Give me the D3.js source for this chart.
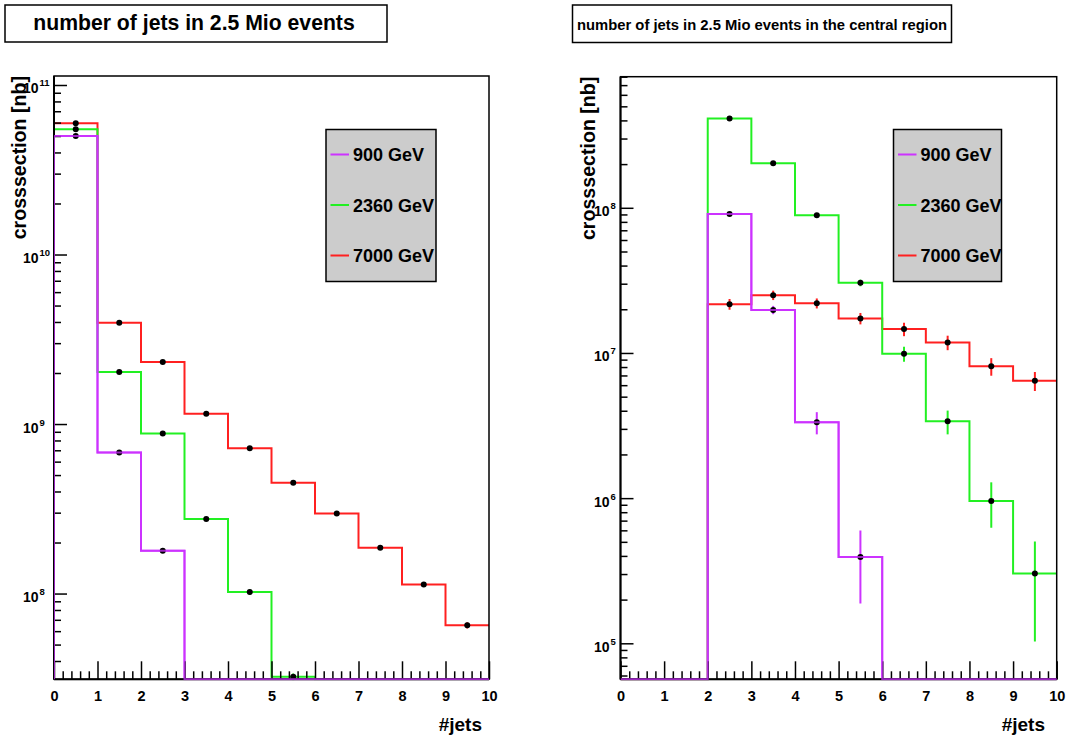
<!DOCTYPE html>
<html><head><meta charset="utf-8">
<script src="https://cdn.jsdelivr.net/npm/d3@7"></script>
<style>
body{margin:0;background:#fff}
svg{display:block}
text{font-family:"Liberation Sans",Arial,Helvetica,sans-serif;font-weight:bold;fill:#000}
</style>
</head><body>
<svg id="chart" width="1069" height="743"></svg>
<script>
// ---------- data ----------
const binEdges = [0,1,2,3,4,5,6,7,8,9,10];
const xTickLabels = ["0","1","2","3","4","5","6","7","8","9","10"];
const seriesNames = ["900 GeV","2360 GeV","7000 GeV"];
const seriesColors = ["#cc33ff","#22f022","#ff2020"];

// left panel: number of jets in 2.5 Mio events  (crosssection [nb])
const left900  = [5.0e10, 6.8e8, 1.79e8, 0, 0, 0, 0, 0, 0, 0];
const left2360 = [5.48e10, 2.03e9, 8.8e8, 2.75e8, 1.02e8, 3.23e7, 0, 0, 0, 0];
const left7000 = [5.94e10, 3.96e9, 2.32e9, 1.15e9, 7.2e8, 4.5e8, 2.97e8, 1.86e8, 1.13e8, 6.5e7];
const leftErr900  = [3.0e8, 1.2e7, 4.5e6, 0, 0, 0, 0, 0, 0, 0];
const leftErr2360 = [3.0e8, 2.0e7, 1.3e7, 6.5e6, 4.0e6, 1.5e6, 0, 0, 0, 0];
const leftErr7000 = [3.0e8, 2.5e7, 2.0e7, 1.3e7, 1.0e7, 8.0e6, 6.0e6, 4.5e6, 3.5e6, 2.8e6];

// right panel: central region
const right900  = [0, 0, 9.05e7, 1.98e7, 3.33e6, 3.93e5, 0, 0, 0, 0];
const right2360 = [0, 0, 4.13e8, 2.03e8, 8.87e7, 3.04e7, 9.87e6, 3.38e6, 9.55e5, 3.03e5];
const right7000 = [0, 0, 2.17e7, 2.5e7, 2.2e7, 1.73e7, 1.46e7, 1.18e7, 8.09e6, 6.43e6];
const rightErr900  = [0, 0, 3.1e6, 1.3e6, 5.8e5, 2.05e5, 0, 0, 0, 0];
const rightErr2360 = [0, 0, 6.6e6, 4.6e6, 3.0e6, 1.6e6, 1.17e6, 6.3e5, 3.3e5, 2.0e5];
const rightErr7000 = [0, 0, 1.82e6, 1.86e6, 1.74e6, 1.56e6, 1.55e6, 1.35e6, 1.12e6, 9.5e5];

const leftDecades  = [1e8, 1e9, 1e10, 1e11];
const leftExponents = ["8","9","10","11"];
const rightDecades = [1e5, 1e6, 1e7, 1e8];
const rightExponents = ["5","6","7","8"];

const titleLeft  = "number of jets in 2.5 Mio events";
const titleRight = "number of jets in 2.5 Mio events in the central region";
const yTitle = "crosssection [nb]";
const xTitle = "#jets";

// ---------- layout ----------
const panels = [
  {
    x0: 54, x1: 489, y0: 76, y1: 679.3, ymin: 3.12e7, ymax: 1.13e11,
    values: [left900, left2360, left7000], errors: [leftErr900, leftErr2360, leftErr7000],
    decades: leftDecades, exps: leftExponents, labX: 38.5,
    title: titleLeft, tbox: {x: 5, y: 5, w: 382, h: 37}, tsize: 21.2, tcx: 194, tby: 30,
    legend: {x: 326, y: 129.5, w: 110, h: 152},
    yTitleX: 25.5, xTitleX: 482
  },
  {
    x0: 620.5, x1: 1056.7, y0: 76.7, y1: 679.3, ymin: 5.65e4, ymax: 8.0e8,
    values: [right900, right2360, right7000], errors: [rightErr900, rightErr2360, rightErr7000],
    decades: rightDecades, exps: rightExponents, labX: 609.5,
    title: titleRight, tbox: {x: 572.5, y: 5, w: 379, h: 37.5}, tsize: 14.8, tcx: 762, tby: 29.5,
    legend: {x: 893.5, y: 129.5, w: 108, h: 152},
    yTitleX: 594.5, xTitleX: 1045
  }
];

const svg = d3.select("#chart");

panels.forEach((p, pi) => {
  const x = d3.scaleLinear().domain([binEdges[0], binEdges[binEdges.length-1]]).range([p.x0, p.x1]);
  const y = d3.scaleLog().domain([p.ymin, p.ymax]).range([p.y1, p.y0]);
  const g = svg.append("g");

  const clipId = "clip" + pi;
  svg.append("clipPath").attr("id", clipId).append("rect")
    .attr("x", p.x0).attr("y", p.y0 - 1).attr("width", p.x1 - p.x0 + 1).attr("height", p.y1 - p.y0 + 2);

  // histograms: draw order 7000, 2360, 900 (900 on top)
  const order = [2, 1, 0];
  const line = d3.line().x(d => x(d[0])).y(d => y(Math.max(d[1], p.ymin)));
  const hg = g.append("g").attr("clip-path", `url(#${clipId})`);
  order.forEach(si => {
    const vals = p.values[si];
    const pts = [[binEdges[0], p.ymin]];
    vals.forEach((v, i) => { pts.push([binEdges[i], v]); pts.push([binEdges[i+1], v]); });
    hg.append("path").attr("d", line(pts)).attr("fill", "none")
      .attr("stroke", seriesColors[si]).attr("stroke-width", 2);
  });
  order.forEach(si => {
    const vals = p.values[si], errs = p.errors[si];
    vals.forEach((v, i) => {
      if (v <= 0) return;
      const cx = x((binEdges[i] + binEdges[i+1]) / 2);
      const lo = Math.max(v - errs[i], p.ymin * 0.9);
      hg.append("line").attr("x1", cx).attr("x2", cx)
        .attr("y1", y(lo)).attr("y2", y(v + errs[i]))
        .attr("stroke", seriesColors[si]).attr("stroke-width", 2);
    });
  });
  order.forEach(si => {
    const vals = p.values[si];
    vals.forEach((v, i) => {
      if (v <= 0) return;
      hg.append("circle").attr("cx", x((binEdges[i] + binEdges[i+1]) / 2)).attr("cy", y(v))
        .attr("r", 3).attr("fill", "#000");
    });
  });

  // frame
  g.append("rect").attr("x", p.x0).attr("y", p.y0).attr("width", p.x1 - p.x0).attr("height", p.y1 - p.y0)
    .attr("fill", "none").attr("stroke", "#000").attr("stroke-width", 1.5);
  g.append("line").attr("x1", p.x0).attr("x2", p.x0).attr("y1", p.y0).attr("y2", p.y1)
    .attr("stroke", "#000").attr("stroke-width", 2);

  // y axis ticks (log)
  const lo = Math.floor(Math.log10(p.ymin)), hi = Math.ceil(Math.log10(p.ymax));
  const minors = [];
  for (let e = lo; e <= hi; e++) for (let m = 2; m <= 9; m++) {
    const v = m * Math.pow(10, e);
    if (v >= p.ymin && v <= p.ymax) minors.push(v);
  }
  const yMinorAxis = d3.axisRight(y).tickValues(minors).tickSize(7).tickFormat("");
  const yMajorAxis = d3.axisRight(y).tickValues(p.decades).tickSize(13).tickFormat("");
  [yMinorAxis, yMajorAxis].forEach(ax => {
    const a = g.append("g").attr("transform", `translate(${p.x0},0)`).call(ax);
    a.select(".domain").remove();
    a.selectAll("line").attr("stroke", "#000").attr("stroke-width", 1.5);
  });
  p.decades.forEach((v, i) => {
    g.append("text").attr("x", p.labX).attr("y", y(v) + 8.5).attr("text-anchor", "end")
      .attr("font-size", 14).text("10");
    g.append("text").attr("x", p.labX + 1).attr("y", y(v) + 1.5).attr("text-anchor", "start")
      .attr("font-size", 9.5).text(p.exps[i]);
  });

  // x axis ticks
  const xMinor = d3.range(0, 50).map(k => k * 0.2).filter(v => Math.abs(v - Math.round(v)) > 1e-6);
  const xMinorAxis = d3.axisTop(x).tickValues(xMinor).tickSize(8).tickFormat("");
  const xMajorAxis = d3.axisTop(x).tickValues(binEdges).tickSize(18).tickFormat("");
  [xMinorAxis, xMajorAxis].forEach(ax => {
    const a = g.append("g").attr("transform", `translate(0,${p.y1})`).call(ax);
    a.select(".domain").remove();
    a.selectAll("line").attr("stroke", "#000").attr("stroke-width", 1.5);
  });
  g.append("line").attr("x1", p.x0).attr("x2", p.x1).attr("y1", p.y1).attr("y2", p.y1)
    .attr("stroke", "#000").attr("stroke-width", 2);
  // 900 GeV line along the bottom is drawn over the axis
  const topLine = g.append("g").attr("clip-path", `url(#${clipId})`);
  {
    const vals = p.values[0];
    const pts = [[binEdges[0], p.ymin]];
    vals.forEach((v, i) => { pts.push([binEdges[i], v]); pts.push([binEdges[i+1], v]); });
    topLine.append("path").attr("d", line(pts)).attr("fill", "none")
      .attr("stroke", seriesColors[0]).attr("stroke-width", 2).attr("stroke-opacity", 0.75);
  }

  const xl = d3.axisBottom(x).tickValues(binEdges).tickSize(0).tickPadding(0)
    .tickFormat((d, i) => xTickLabels[i]);
  const xa = g.append("g").attr("transform", `translate(0,${p.y1})`).call(xl);
  xa.select(".domain").remove();
  xa.selectAll("text").attr("dy", null).attr("y", 21.5).attr("font-size", 14.5)
    .attr("font-family", "Liberation Sans, Arial, sans-serif").attr("font-weight", "bold").attr("fill", "#000");

  // axis titles
  g.append("text").attr("x", p.xTitleX).attr("y", 731).attr("text-anchor", "end")
    .attr("font-size", 19).text(xTitle);
  g.append("text").attr("transform", `translate(${p.yTitleX},${p.y0}) rotate(-90)`)
    .attr("text-anchor", "end").attr("font-size", 19.6).text(yTitle);

  // title box
  g.append("rect").attr("x", p.tbox.x).attr("y", p.tbox.y).attr("width", p.tbox.w).attr("height", p.tbox.h)
    .attr("fill", "#fff").attr("stroke", "#000").attr("stroke-width", 1.5);
  g.append("text").attr("x", p.tcx).attr("y", p.tby).attr("text-anchor", "middle")
    .attr("font-size", p.tsize).text(p.title);

  // legend
  const L = p.legend;
  g.append("rect").attr("x", L.x).attr("y", L.y).attr("width", L.w).attr("height", L.h)
    .attr("fill", "#cccccc").attr("stroke", "#000").attr("stroke-width", 1.5);
  const entryOffsets = [25, 75.5, 126];
  seriesNames.forEach((name, si) => {
    const ey = L.y + entryOffsets[si];
    g.append("line").attr("x1", L.x + 4.5).attr("x2", L.x + 23).attr("y1", ey).attr("y2", ey)
      .attr("stroke", seriesColors[si]).attr("stroke-width", 2);
    g.append("text").attr("x", L.x + 27).attr("y", ey + 6.5).attr("font-size", 18).text(name);
  });
});
</script>
</body></html>
